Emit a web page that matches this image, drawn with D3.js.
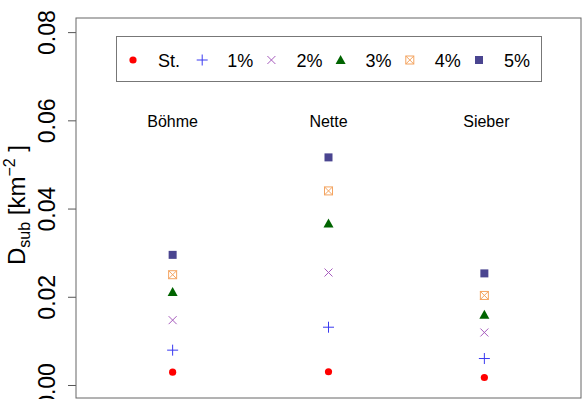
<!DOCTYPE html>
<html><head><meta charset="utf-8">
<script src="https://cdn.jsdelivr.net/npm/d3@7"></script>
<style>body{margin:0;background:#fff}svg{display:block;font-family:"Liberation Sans",Arial,sans-serif}</style>
</head><body>
<svg id="c" width="584" height="399"></svg>
<script>
const sites = ["Böhme", "Nette", "Sieber"];
const seriesNames = ["St.", "1%", "2%", "3%", "4%", "5%"];
const seriesColors = ["#ff0000", "#3a3af0", "#a65bbd", "#006400", "#f4a460", "#4a4590"];
const seriesShapes = ["circle", "plus", "cross", "triangle", "boxx", "square"];
// values per series, in site order
const vSt = [0.0029, 0.0030, 0.0017];
const v1 = [0.0079, 0.0131, 0.0060];
const v2 = [0.0147, 0.0255, 0.0119];
const v3 = [0.0211, 0.0366, 0.0159];
const v4 = [0.0250, 0.0440, 0.0203];
const v5 = [0.0295, 0.0516, 0.0253];
const yTicks = [0, 0.02, 0.04, 0.06, 0.08];

const values = [vSt, v1, v2, v3, v4, v5];
const svg = d3.select("#c");
const L = 76, R = 581, T = 18, B = 398;
const x = d3.scaleLinear().domain([0.38, 3.62]).range([L, R]);
const y = d3.scaleLinear().domain([-0.00295, 0.0832]).range([B, T]);

function drawMarker(g, shape, color) {
  if (shape === "circle") g.append("circle").attr("r", 3.6).attr("fill", color);
  else if (shape === "square") g.append("rect").attr("x", -4).attr("y", -4).attr("width", 8).attr("height", 8).attr("fill", color);
  else if (shape === "triangle") g.append("path").attr("d", "M0,-5L5,4L-5,4Z").attr("fill", color);
  else if (shape === "plus") g.append("path").attr("d", "M-5.5,0H5.5M0,-5.5V5.5").attr("stroke", color).attr("stroke-width", 1);
  else if (shape === "cross") g.append("path").attr("d", "M-4,-4L4,4M-4,4L4,-4").attr("stroke", color).attr("stroke-width", 1);
  else if (shape === "boxx") {
    g.append("rect").attr("x", -4).attr("y", -4).attr("width", 8).attr("height", 8).attr("fill", "none").attr("stroke", color).attr("stroke-width", 1);
    g.append("path").attr("d", "M-4,-4L4,4M-4,4L4,-4").attr("stroke", color).attr("stroke-width", 1);
  }
}

// axis
const ax = svg.append("g").attr("transform", `translate(${L},0)`)
  .call(d3.axisLeft(y).tickValues(yTicks).tickFormat(d3.format(".2f")).tickSize(8).tickSizeOuter(0));
ax.select(".domain").remove();
ax.selectAll(".tick line").attr("stroke", "#555");
ax.selectAll(".tick text").attr("font-size", 23).attr("fill", "#000")
  .attr("font-family", '"Liberation Sans",Arial,sans-serif')
  .attr("text-anchor", "middle").attr("dy", null).attr("x", null)
  .attr("transform", "translate(-29,0) rotate(-90)").attr("dominant-baseline", "central");

// box
svg.append("rect").attr("x", L).attr("y", T).attr("width", R - L).attr("height", B - T)
  .attr("fill", "none").attr("stroke", "#666").attr("stroke-width", 1);

// y title
const yt = svg.append("text").attr("transform", `translate(25,${(T + B) / 2 - 3}) rotate(-90)`)
  .attr("text-anchor", "middle").attr("font-size", 24).attr("fill", "#000");
yt.append("tspan").text("D");
yt.append("tspan").attr("font-size", 16).attr("dy", 5).text("sub");
yt.append("tspan").attr("dy", -5).text(" [km");
yt.append("tspan").attr("font-size", 16).attr("dy", -10).text("\u22122");
yt.append("tspan").attr("dy", 10).text(" ]");

// site labels
svg.selectAll("text.site").data(sites).join("text").attr("class", "site")
  .attr("x", (d, i) => x(i + 1) + (i === 2 ? 2 : 0)).attr("y", 127).attr("text-anchor", "middle")
  .attr("font-size", 16).attr("fill", "#000").text(d => d);

// points
values.forEach((vals, s) => {
  vals.forEach((v, i) => {
    const g = svg.append("g").attr("transform", `translate(${x(i + 1)},${y(v)})`);
    drawMarker(g, seriesShapes[s], seriesColors[s]);
  });
});

// legend
svg.append("rect").attr("x", 116.5).attr("y", 36.5).attr("width", 425).attr("height", 45)
  .attr("fill", "#fff").attr("stroke", "#777").attr("stroke-width", 1);
const lx = d3.scaleLinear().domain([0, 5]).range([133, 479]);
seriesNames.forEach((n, s) => {
  const g = svg.append("g").attr("transform", `translate(${lx(s)},60)`);
  drawMarker(g, seriesShapes[s], seriesColors[s]);
  svg.append("text").attr("x", lx(s) + 25).attr("y", 67).attr("font-size", 18).attr("fill", "#000").text(n);
});
</script>
</body></html>
